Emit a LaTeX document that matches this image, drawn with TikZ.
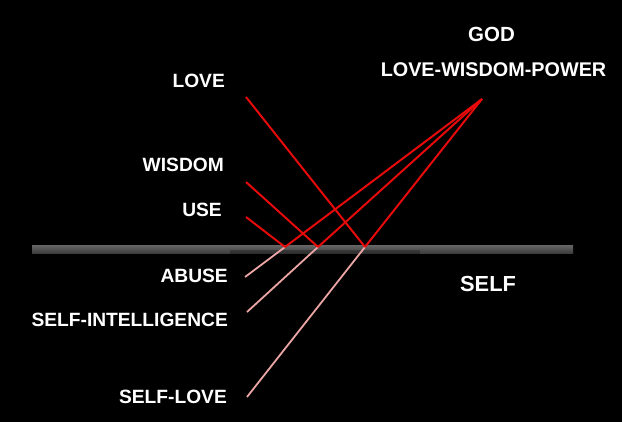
\documentclass[tikz,border=0pt]{standalone}
\usepackage{fontspec}
\setmainfont{Liberation Sans}
\begin{document}
\begin{tikzpicture}[x=1pt,y=-1pt,
  lbl/.style={text=white,inner sep=0pt,font=\bfseries\fontsize{19.2}{20}\selectfont},
  ray/.style={draw={rgb,255:red,230;green,10;blue,10},line width=2pt},
  back/.style={draw={rgb,255:red,235;green,165;blue,165},line width=1.8pt}]
\fill[black] (0,0) rectangle (622,422);
\useasboundingbox (0,0) rectangle (622,422);
% ground bar
\shade[top color=black!62,bottom color=black!78] (32,246) rectangle (573,254);
\fill[black,opacity=0.25] (230,250.5) rectangle (420,254);
% labels
\node[lbl,anchor=base east] (love) at (225,88) {LOVE};
\node[lbl,anchor=base east] (wisdom) at (224,172) {WISDOM};
\node[lbl,anchor=base east] (use) at (222,217) {USE};
\node[lbl,anchor=base east] (abuse) at (228,283) {ABUSE};
\node[lbl,anchor=base east] (selfint) at (228,327) {SELF-INTELLIGENCE};
\node[lbl,anchor=base east] (selflove) at (227,403) {SELF-LOVE};
\node[lbl,anchor=base,font=\bfseries\fontsize{20.5}{22}\selectfont] (god) at (491.5,42) {GOD};
\node[lbl,anchor=base,font=\bfseries\fontsize{19.8}{22}\selectfont] (lwp) at (493.5,77) {LOVE-WISDOM-POWER};
\node[lbl,anchor=base west,font=\bfseries\fontsize{21.8}{24}\selectfont] (self) at (460,292) {SELF};
% endpoints
\coordinate (apex) at (482,99);
\coordinate (pL) at (246,97);
\coordinate (pW) at (246,182);
\coordinate (pU) at (246,217);
\coordinate (r1) at (285,247);
\coordinate (r2) at (318,247);
\coordinate (r3) at (365,247);
\coordinate (qA) at (245,277);
\coordinate (qS) at (247,312);
\coordinate (qL) at (247,397);
% reflected rays below
\draw[back] (r1) -- (qA);
\draw[back] (r2) -- (qS);
\draw[back] (r3) -- (qL);
% rays above
\draw[ray] (pL) -- (r3);
\draw[ray] (pW) -- (r2);
\draw[ray] (pU) -- (r1);
\draw[ray] (apex) -- (r1);
\draw[ray] (apex) -- (r2);
\draw[ray] (apex) -- (r3);
\end{tikzpicture}
\end{document}
